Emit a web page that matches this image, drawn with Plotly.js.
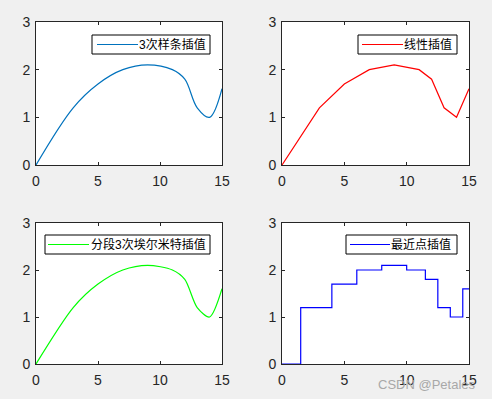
<!DOCTYPE html>
<html><head><meta charset="utf-8">
<script src="https://cdn.plot.ly/plotly-3.0.1.min.js"></script>
<style>html,body{margin:0;padding:0;background:#f0f0f0}</style>
</head><body><div id="chart" style="width:492px;height:399px"></div>
<script>
// Knot data
const xKnots = [0, 3, 5, 7, 9, 11, 12, 13, 14, 15];
const yKnots = [0, 1.2, 1.7, 2.0, 2.1, 2.0, 1.8, 1.2, 1.0, 1.6];
const legendNames = ['3次样条插值', '线性插值', '分段3次埃尔米特插值', '最近点插值'];
const lineColors = ['#0072BD', '#FF0000', '#00FF00', '#0000FF'];
const xTicks = [0, 5, 10, 15];
const yTicks = [0, 1, 2, 3];

const W = 492, H = 399;
const axFont = {family: 'Liberation Sans, Arial, sans-serif', size: 14, color: '#262626'};
const legFont = {family: 'Liberation Sans, Noto Sans CJK SC, sans-serif', size: 12, color: '#000'};

const traces = [
  {x: xKnots, y: yKnots, mode: 'lines', name: legendNames[0], line: {color: lineColors[0], width: 1.2, shape: 'spline', smoothing: 1}, xaxis: 'x', yaxis: 'y'},
  {x: xKnots, y: yKnots, mode: 'lines', name: legendNames[1], line: {color: lineColors[1], width: 1.2}, xaxis: 'x2', yaxis: 'y2'},
  {x: xKnots, y: yKnots, mode: 'lines', name: legendNames[2], line: {color: lineColors[2], width: 1.2, shape: 'spline', smoothing: 0.8}, xaxis: 'x3', yaxis: 'y3'},
  {x: xKnots, y: yKnots, mode: 'lines', name: legendNames[3], line: {color: lineColors[3], width: 1.2, shape: 'hvh'}, xaxis: 'x4', yaxis: 'y4'}
];

function ax(domain, anchor, isX) {
  return {
    domain: domain, anchor: anchor, range: isX ? [0, 15] : [0, 3],
    tickvals: isX ? xTicks : yTicks, ticktext: (isX ? xTicks : yTicks).map(String),
    ticks: 'inside', ticklen: 3, tickcolor: '#262626', tickwidth: 1,
    showline: true, linecolor: '#262626', linewidth: 1, mirror: 'ticks',
    ticklabelstandoff: isX ? 3 : 2,
    showgrid: false, zeroline: false, tickfont: axFont, fixedrange: true, automargin: false
  };
}
const xd1 = [36 / W, 222 / W], xd2 = [282 / W, 469 / W];
const yd1 = [1 - 165 / H, 1 - 22 / H], yd2 = [1 - 364 / H, 1 - 223 / H];

// manual legend boxes: [left, top, right, bottom, lineStart, lineEnd, textLeft] in px
const legendBoxes = [
  [92, 35, 210, 54, 97, 138, 138],
  [358, 35, 457, 54, 362, 403, 403],
  [45, 235, 210, 254, 48, 89, 90],
  [346, 235, 457, 254, 350, 390, 390]
];
const shapes = [], annotations = [];
legendBoxes.forEach((b, i) => {
  const [l, t, r, bt, ls, le, tl] = b;
  const cy = (t + bt) / 2;
  shapes.push({type: 'rect', xref: 'paper', yref: 'paper', x0: l / W, x1: r / W, y0: 1 - bt / H, y1: 1 - t / H,
    fillcolor: '#ffffff', line: {color: '#000000', width: 1}, layer: 'above'});
  shapes.push({type: 'line', xref: 'paper', yref: 'paper', x0: ls / W, x1: le / W, y0: 1 - cy / H, y1: 1 - cy / H,
    line: {color: lineColors[i], width: 1.2}, layer: 'above'});
  annotations.push({text: legendNames[i], xref: 'paper', yref: 'paper', x: tl / W, y: 1 - cy / H,
    xanchor: 'left', yanchor: 'middle', showarrow: false, borderpad: 0, font: legFont});
});
annotations.push({text: 'CSDN @Petales', xref: 'paper', yref: 'paper', x: 477 / W, y: 1 - 384 / H,
  xanchor: 'right', yanchor: 'middle', showarrow: false, borderpad: 0,
  font: {family: 'Liberation Sans, Arial, sans-serif', size: 13, color: '#a8a8a8'}});

const layout = {
  width: W, height: H, margin: {l: 0, r: 0, t: 0, b: 0, autoexpand: false},
  paper_bgcolor: '#f0f0f0', plot_bgcolor: '#ffffff', showlegend: false,
  xaxis: ax(xd1, 'y', true), yaxis: ax(yd1, 'x', false),
  xaxis2: ax(xd2, 'y2', true), yaxis2: ax(yd1, 'x2', false),
  xaxis3: ax(xd1, 'y3', true), yaxis3: ax(yd2, 'x3', false),
  xaxis4: ax(xd2, 'y4', true), yaxis4: ax(yd2, 'x4', false),
  shapes: shapes, annotations: annotations
};
Plotly.newPlot('chart', traces, layout, {staticPlot: true, displayModeBar: false});
</script></body></html>
